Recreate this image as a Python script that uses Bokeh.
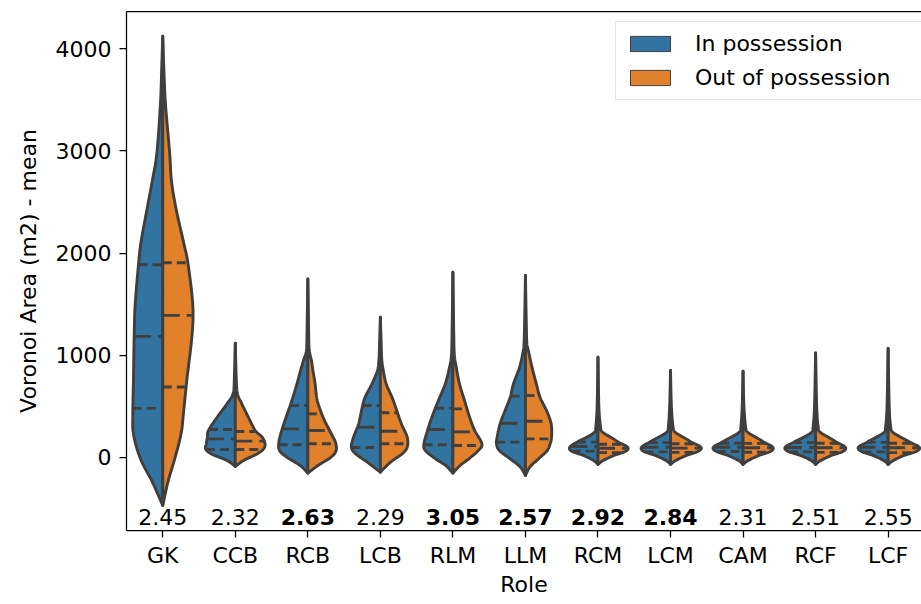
import numpy as np
from bokeh.plotting import figure
from bokeh.models import FixedTicker, LinearAxis, Legend, LegendItem, Range1d, ColumnDataSource
from bokeh.core.properties import value
from bokeh.embed import file_html
from bokeh.resources import INLINE

# ---------------- data ----------------
roles = ["GK", "CCB", "RCB", "LCB", "RLM", "LLM", "RCM", "LCM", "CAM", "RCF", "LCF"]
ratios = ["2.45", "2.32", "2.63", "2.29", "3.05", "2.57", "2.92", "2.84", "2.31", "2.51", "2.55"]
ratio_bold = [False, False, True, False, True, True, True, True, False, False, False]
series = ["In possession", "Out of possession"]

# violin outlines: y levels (m2) and half widths (category units) for each side
GK_y = [4120, 3800, 3450, 2980, 2710, 2440, 2110, 1900, 1500, 1200, 765, 430, 230, -10, -240, -470]
GK_in = [0, 0.015, 0.033, 0.081, 0.143, 0.214, 0.299, 0.333, 0.38, 0.394, 0.404, 0.413, 0.404, 0.309, 0.143, 0]
GK_out = [0, 0.015, 0.038, 0.095, 0.119, 0.181, 0.285, 0.347, 0.413, 0.404, 0.333, 0.285, 0.252, 0.166, 0.071, 0]
GK_q_in = [480, 1185, 1885]
GK_q_out = [690, 1390, 1905]

CCB_y = [1118, 800, 626, 525, 394, 264, 199, 134, 84, 35, -29, -88]
CCB_in = [0, 0.012, 0.03, 0.115, 0.25, 0.37, 0.385, 0.40, 0.41, 0.33, 0.115, 0]
CCB_out = [0, 0.012, 0.03, 0.09, 0.18, 0.275, 0.37, 0.41, 0.39, 0.30, 0.115, 0]
CCB_q_in = [78, 182, 274]
CCB_q_out = [78, 160, 254]

RCB_y = [1747, 1200, 1046, 949, 851, 721, 557, 394, 264, 150, 68, 3, -78, -153]
RCB_in = [0, 0.012, 0.02, 0.06, 0.10, 0.15, 0.22, 0.30, 0.36, 0.40, 0.39, 0.29, 0.105, 0]
RCB_out = [0, 0.012, 0.02, 0.05, 0.07, 0.10, 0.13, 0.21, 0.30, 0.38, 0.39, 0.32, 0.14, 0]
RCB_q_in = [124, 280, 508]
RCB_q_out = [134, 264, 427]

LCB_y = [1372, 1100, 949, 851, 721, 590, 492, 329, 199, 101, 36, -46, -143]
LCB_in = [0, 0.012, 0.02, 0.04, 0.115, 0.21, 0.25, 0.30, 0.37, 0.40, 0.34, 0.18, 0]
LCB_out = [0, 0.012, 0.02, 0.04, 0.08, 0.16, 0.21, 0.29, 0.37, 0.37, 0.30, 0.14, 0]
LCB_q_in = [98, 296, 508]
LCB_q_out = [134, 257, 437]

RLM_y = [1812, 1200, 1000, 884, 721, 557, 394, 264, 134, 68, -13, -78, -153]
RLM_in = [0, 0.012, 0.02, 0.046, 0.105, 0.20, 0.29, 0.35, 0.40, 0.38, 0.24, 0.10, 0]
RLM_out = [0, 0.012, 0.02, 0.046, 0.09, 0.16, 0.23, 0.30, 0.40, 0.35, 0.22, 0.10, 0]
RLM_q_in = [124, 274, 482]
RLM_q_out = [117, 251, 476]

LLM_y = [1780, 1300, 1112, 1046, 884, 721, 590, 460, 329, 199, 134, 68, -13, -94, -176]
LLM_in = [0, 0.012, 0.02, 0.03, 0.08, 0.165, 0.21, 0.28, 0.35, 0.39, 0.40, 0.36, 0.21, 0.07, 0]
LLM_out = [0, 0.012, 0.02, 0.04, 0.09, 0.15, 0.20, 0.29, 0.355, 0.36, 0.34, 0.30, 0.18, 0.06, 0]
LLM_q_in = [150, 335, 600]
LLM_q_out = [182, 355, 606]

RCM_y = [981, 500, 300, 250, 200, 150, 100, 60, 20, -30, -68]
RCM_in = [0, 0.012, 0.03, 0.045, 0.15, 0.29, 0.39, 0.36, 0.20, 0.06, 0]
RCM_out = [0, 0.012, 0.035, 0.06, 0.17, 0.285, 0.41, 0.38, 0.22, 0.07, 0]
RCM_q_in = [62, 108, 150]
RCM_q_out = [48, 91, 130]

LCM_y = [851, 500, 300, 250, 200, 150, 100, 60, 20, -30, -68]
LCM_in = [0, 0.012, 0.03, 0.05, 0.16, 0.29, 0.40, 0.37, 0.21, 0.06, 0]
LCM_out = [0, 0.012, 0.035, 0.06, 0.17, 0.29, 0.42, 0.38, 0.22, 0.07, 0]
LCM_q_in = [55, 100, 145]
LCM_q_out = [50, 92, 135]

CAM_y = [844, 500, 300, 250, 200, 150, 100, 60, 20, -30, -68]
CAM_in = [0, 0.012, 0.03, 0.05, 0.16, 0.29, 0.41, 0.37, 0.21, 0.06, 0]
CAM_out = [0, 0.012, 0.035, 0.06, 0.17, 0.29, 0.41, 0.38, 0.22, 0.07, 0]
CAM_q_in = [58, 100, 140]
CAM_q_out = [52, 95, 138]

RCF_y = [1023, 500, 300, 250, 200, 150, 100, 60, 20, -30, -68]
RCF_in = [0, 0.015, 0.035, 0.05, 0.16, 0.30, 0.42, 0.38, 0.21, 0.06, 0]
RCF_out = [0, 0.015, 0.035, 0.06, 0.17, 0.29, 0.41, 0.38, 0.22, 0.07, 0]
RCF_q_in = [55, 98, 145]
RCF_q_out = [50, 95, 140]

LCF_y = [1067, 500, 300, 250, 200, 150, 100, 60, 20, -30, -68]
LCF_in = [0, 0.015, 0.035, 0.05, 0.16, 0.29, 0.41, 0.37, 0.21, 0.06, 0]
LCF_out = [0, 0.015, 0.035, 0.06, 0.17, 0.30, 0.43, 0.39, 0.22, 0.07, 0]
LCF_q_in = [55, 100, 148]
LCF_q_out = [48, 95, 140]

profiles = [
    (GK_y, GK_in, GK_out, GK_q_in, GK_q_out),
    (CCB_y, CCB_in, CCB_out, CCB_q_in, CCB_q_out),
    (RCB_y, RCB_in, RCB_out, RCB_q_in, RCB_q_out),
    (LCB_y, LCB_in, LCB_out, LCB_q_in, LCB_q_out),
    (RLM_y, RLM_in, RLM_out, RLM_q_in, RLM_q_out),
    (LLM_y, LLM_in, LLM_out, LLM_q_in, LLM_q_out),
    (RCM_y, RCM_in, RCM_out, RCM_q_in, RCM_q_out),
    (LCM_y, LCM_in, LCM_out, LCM_q_in, LCM_q_out),
    (CAM_y, CAM_in, CAM_out, CAM_q_in, CAM_q_out),
    (RCF_y, RCF_in, RCF_out, RCF_q_in, RCF_q_out),
    (LCF_y, LCF_in, LCF_out, LCF_q_in, LCF_q_out),
]

# ---------------- styling ----------------
BLUE = "#3274a1"
ORANGE = "#e1812c"
EDGE = "#3f3f3f"
FONT = "DejaVu Sans"
FS = "22px"
LW = 2.9


def smooth(ys, ws, n=10):
    """Catmull-Rom curve through the read outline points (for drawing only)."""
    P = np.column_stack([np.asarray(ys, float), np.asarray(ws, float)])
    m = len(P)
    out = []
    for i in range(m - 1):
        p0 = P[max(i - 1, 0)]
        p1 = P[i]
        p2 = P[i + 1]
        p3 = P[min(i + 2, m - 1)]
        for t in np.linspace(0, 1, n, endpoint=False):
            t2, t3 = t * t, t * t * t
            pt = 0.5 * ((2 * p1) + (-p0 + p2) * t + (2 * p0 - 5 * p1 + 4 * p2 - p3) * t2 + (-p0 + 3 * p1 - 3 * p2 + p3) * t3)
            out.append(pt)
    out.append(P[-1])
    out = np.array(out)
    out[:, 1] = np.clip(out[:, 1], 0, None)
    return out[:, 0], out[:, 1]


p = figure(width=921, height=604,
           x_range=Range1d(-0.5, 10.46), y_range=Range1d(-714, 4362),
           output_backend="svg", toolbar_location=None,
           min_border_left=126, min_border_right=0, min_border_top=11, min_border_bottom=74)
p.grid.visible = False
p.outline_line_color = None
p.background_fill_color = "white"
p.border_fill_color = "white"

xs_in, ys_in, xs_out, ys_out = [], [], [], []
dash_in, dash_out, med_in, med_out = [], [], [], []
for i, (py, w_in, w_out, q_in, q_out) in enumerate(profiles):
    sy, sw = smooth(py, w_in)
    xs_in.append(list(i - sw)); ys_in.append(list(sy))
    order = np.argsort(sy)
    for k, q in enumerate(q_in):
        w = float(np.interp(q, sy[order], sw[order]))
        seg = ([i - w, i], [q, q])
        (med_in if k == 1 else dash_in).append(seg)
    sy, sw = smooth(py, w_out)
    xs_out.append(list(i + sw)); ys_out.append(list(sy))
    order = np.argsort(sy)
    for k, q in enumerate(q_out):
        w = float(np.interp(q, sy[order], sw[order]))
        seg = ([i, i + w], [q, q])
        (med_out if k == 1 else dash_out).append(seg)

p.patches(xs_in, ys_in, fill_color=BLUE, line_color=EDGE, line_width=LW, line_join="round")
p.patches(xs_out, ys_out, fill_color=ORANGE, line_color=EDGE, line_width=LW, line_join="round")

for segs, dash in ((dash_in, "9 5"), (dash_out, "9 5"), (med_in, "17 7"), (med_out, "17 7")):
    p.multi_line([s[0] for s in segs], [s[1] for s in segs], line_color=EDGE, line_width=LW,
                 line_dash=dash)

# ratio annotations
ANNOT_Y = -585
src_n = ColumnDataSource(dict(x=[i for i, b in enumerate(ratio_bold) if not b],
                              y=[ANNOT_Y] * ratio_bold.count(False),
                              t=[r for r, b in zip(ratios, ratio_bold) if not b]))
src_b = ColumnDataSource(dict(x=[i for i, b in enumerate(ratio_bold) if b],
                              y=[ANNOT_Y] * ratio_bold.count(True),
                              t=[r for r, b in zip(ratios, ratio_bold) if b]))
p.text("x", "y", text="t", source=src_n, text_align="center", text_baseline="middle",
       text_font=value(FONT), text_font_size=FS, text_color="black")
p.text("x", "y", text="t", source=src_b, text_align="center", text_baseline="middle",
       text_font=value(FONT), text_font_size=FS, text_color="black", text_font_style="bold")

# legend swatches (placed outside the visible range, only shown in the legend)
r_in = p.quad(left=[-5], right=[-4], top=[-5000], bottom=[-5001],
              fill_color=BLUE, line_color=EDGE, line_width=1)
r_out = p.quad(left=[-5], right=[-4], top=[-5000], bottom=[-5001],
               fill_color=ORANGE, line_color=EDGE, line_width=1)
legend = Legend(items=[LegendItem(label=series[0], renderers=[r_in]),
                       LegendItem(label=series[1], renderers=[r_out])],
                location=(489, 430),
                label_text_font=FONT, label_text_font_size=FS, label_text_color="black",
                glyph_width=50, glyph_height=19, label_standoff=20, label_width=217,
                padding=9, spacing=9, margin=0,
                border_line_color="#cccccc", border_line_width=1.2,
                background_fill_color="white", background_fill_alpha=0.8)
p.add_layout(legend)

# axes
xa = p.xaxis[0]
xa.ticker = FixedTicker(ticks=list(range(len(roles))))
xa.major_label_overrides = {i: r for i, r in enumerate(roles)}
xa.axis_label = "Role"
ya = p.yaxis[0]
ya.ticker = FixedTicker(ticks=[0, 1000, 2000, 3000, 4000])
ya.axis_label = "Voronoi Area (m2) - mean"
for ax in (xa, ya):
    ax.minor_tick_line_color = None
    ax.major_tick_in = 0
    ax.major_tick_out = 7
    ax.major_tick_line_width = 1.25
    ax.major_tick_line_color = "black"
    ax.axis_line_width = 1.25
    ax.axis_line_color = "black"
    ax.major_label_text_font = FONT
    ax.major_label_text_font_size = FS
    ax.major_label_text_color = "black"
    ax.axis_label_text_font = FONT
    ax.axis_label_text_font_size = FS
    ax.axis_label_text_font_style = "normal"
    ax.axis_label_text_color = "black"
xa.major_label_standoff = 5
xa.axis_label_standoff = 1
ya.major_label_standoff = 8
ya.axis_label_standoff = 12

top = LinearAxis(ticker=FixedTicker(ticks=[]), major_tick_out=0, major_tick_in=0,
                 minor_tick_line_color=None, major_label_text_font_size="0px",
                 axis_line_color="black", axis_line_width=1.25)
p.add_layout(top, "above")

open("out.html", "w").write(file_html(p, INLINE))
